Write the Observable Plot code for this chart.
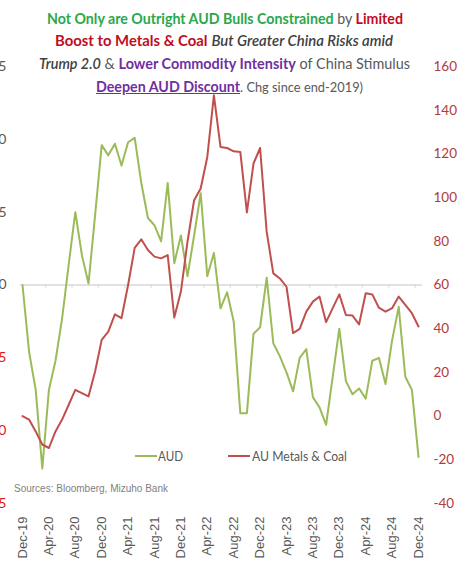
<!DOCTYPE html>
<html>
<head>
<meta charset="utf-8">
<script src="https://cdn.jsdelivr.net/npm/d3@7"></script>
<script src="https://cdn.jsdelivr.net/npm/@observablehq/plot@0.6"></script>
<style>
  body { margin: 0; background: #fff; }
  #wrap { position: relative; width: 467px; height: 562px; overflow: hidden; background: #fff; }
  #chart { position: absolute; left: 0; top: 0; }
  .tl { position: absolute; white-space: nowrap; font-family: Lato, sans-serif; font-size: 15px; line-height: 20px; transform-origin: 0 50%; color: #595959; }
  .g { color: #2aa84a; font-weight: 700; }
  .r { color: #c00d1e; font-weight: 700; }
  .p { color: #7030a0; font-weight: 700; }
  .i { font-style: italic; color: #404040; font-weight: 600; }
  .u { text-decoration: underline; }
  .sm { font-size: 13.5px; }
  .leg { position: absolute; font-family: Lato, sans-serif; font-size: 14px; color: #595959; white-space: nowrap; line-height: 16px; }
  .legline { position: absolute; height: 0; border-top: 2px solid; }
  #src { position: absolute; left: 14px; top: 483px; font-family: "Liberation Sans", Arial, sans-serif; font-size: 10px; color: #7f7f7f; white-space: nowrap; }
</style>
</head>
<body>
<div id="wrap">
  <div id="chart"></div>
  <div class="tl" data-w="356" style="left:47px; top:8px;"><span class="g">Not Only are Outright AUD Bulls Constrained</span> by <span class="r">Limited</span></div>
  <div class="tl" data-w="338" style="left:55px; top:30px;"><span class="r">Boost to Metals &amp; Coal</span> <span class="i">But Greater China Risks amid</span></div>
  <div class="tl" data-w="371" style="left:39px; top:53px;"><span class="i">Trump 2.0</span> &amp; <span class="p">Lower Commodity Intensity</span> of China Stimulus</div>
  <div class="tl" data-w="267" style="left:96px; top:76px;"><span class="p u">Deepen AUD Discount</span><span class="sm">. Chg since end-2019)</span></div>
  <div class="legline" style="left:135px; top:455px; width:22px; border-color:#9bbb59;"></div>
  <div class="leg" data-w="25" style="left:158px; top:448px;">AUD</div>
  <div class="legline" style="left:228px; top:455px; width:22px; border-color:#c0504d;"></div>
  <div class="leg" data-w="95" style="left:252px; top:448px;">AU Metals &amp; Coal</div>
  <div id="src">Sources: Bloomberg, Mizuho Bank</div>
</div>
<script>
// Tick labels of the category axis (every 4th month, Dec-19 .. Dec-24)
const tickLabels = ["Dec-19","Apr-20","Aug-20","Dec-20","Apr-21","Aug-21","Dec-21","Apr-22","Aug-22","Dec-22","Apr-23","Aug-23","Dec-23","Apr-24","Aug-24","Dec-24"];
const seriesNames = ["AUD", "AU Metals & Coal"];

// AUD, % change since end-2019 (left axis), monthly Dec-19 .. Dec-24
const audValues = [0, -4.6, -7.2, -12.6, -7.2, -5.2, -2.3, 1.4, 5.0, 2.05, 0.1, 4.8, 9.6, 8.9, 9.7, 8.2, 9.8, 10.1, 7.0, 4.6, 4.1,
  3.0, 7.0, 1.5, 3.4, 0.6, 3.4, 6.3, 0.6, 2.2, -1.6, -0.5, -2.5, -8.8, -8.8, -3.35, -2.9, 0.5, -4.0, -4.9, -6.0, -7.3,
  -5.0, -4.4, -7.7, -8.4, -9.6, -6.3, -3.0, -6.6, -7.5, -7.1, -7.8, -5.2, -5.0, -6.8, -3.8, -1.5, -6.3, -7.2, -11.8];

// AU Metals & Coal, % change since end-2019 (right axis), monthly Dec-19 .. Dec-24
const metalsValues = [0, -1.6, -7, -13, -14.6, -7, -1.6, 5.2, 12, 10.5, 9, 20.4, 34.9, 38.7, 46.6, 44.8, 60, 77, 80.9, 76, 73,
  72.2, 73.7, 45.1, 57, 79.8, 98.8, 104.2, 118.6, 146.8, 123.2, 122.7, 121.2, 120.9, 93.2, 115.6, 122.7, 84.3, 65.3, 63, 59.2, 38,
  39.9, 47.8, 52.4, 54.7, 43, 49.4, 55.7, 46.3, 46, 42, 56.2, 55.7, 49.6, 47.8, 49.4, 54.7, 50.9, 47.1, 41];

const leftTicks = [-15, -10, -5, 0, 5, 10, 15];
const rightTicks = [-40, -20, 0, 20, 40, 60, 80, 100, 120, 140, 160];

// right axis [-40,160] shares the plot height with left axis [-15,15]
const toLeft = v => (v - 60) * 15 / 100;
const fromLeft = d => Math.round(d * 100 / 15 + 60);

const audRows = audValues.map((v, i) => ({i, v, s: seriesNames[0]}));
const metalRows = metalsValues.map((v, i) => ({i, v: toLeft(v), s: seriesNames[1]}));
const tickPos = tickLabels.map((_, k) => k * 4);
const minorTicks = tickPos.slice(1).map(t => t - 0.5);

const chart = Plot.plot({
  width: 467,
  height: 562,
  marginTop: 66,
  marginBottom: 59,
  marginLeft: 22,
  marginRight: 49,
  x: {domain: [0, 60], axis: null, label: null},
  y: {domain: [-15, 15], axis: null, label: null},
  style: {fontFamily: "Lato, sans-serif", fontSize: "13px", background: "transparent", overflow: "visible"},
  marks: [
    Plot.ruleY([0], {x1: -0.3, x2: 60.6, stroke: "#d9d9d9", strokeWidth: 1.3}),
    Plot.ruleX(minorTicks, {y1: 0, y2: -0.2, stroke: "#d9d9d9", strokeWidth: 1.3}),
    Plot.line(audRows, {x: "i", y: "v", stroke: "#9bbb59", strokeWidth: 2}),
    Plot.line(metalRows, {x: "i", y: "v", stroke: "#c0504d", strokeWidth: 2}),
    Plot.axisX(tickPos, {anchor: "bottom", tickFormat: d => tickLabels[d / 4], tickRotate: -90, tickSize: 0, tickPadding: 13,
      fontFamily: "Liberation Sans, Arial, sans-serif", fontSize: 13, fill: "#595959", label: null}),
    Plot.axisY(leftTicks.filter(d => d >= 0), {anchor: "left", tickSize: 0, tickPadding: 16, tickFormat: d => String(d), fill: "#595959", fontSize: 14, label: null}),
    Plot.axisY(leftTicks.filter(d => d < 0), {anchor: "left", tickSize: 0, tickPadding: 16, tickFormat: d => String(d), fill: "#e02020", fontSize: 14, label: null}),
    Plot.axisY(rightTicks.map(toLeft), {anchor: "right", tickSize: 0, tickPadding: 15, tickFormat: d => String(fromLeft(d)), fill: "#b23b3b", fontSize: 13.5, label: null})
  ]
});
document.getElementById("chart").appendChild(chart);

// fit the title/legend lines to the widths they occupy in the reference
document.querySelectorAll("[data-w]").forEach(el => {
  const w = el.getBoundingClientRect().width;
  const target = +el.dataset.w;
  if (w > 0) { el.style.transformOrigin = "0 50%"; el.style.transform = `scaleX(${target / w})`; }
});
</script>
</body>
</html>
